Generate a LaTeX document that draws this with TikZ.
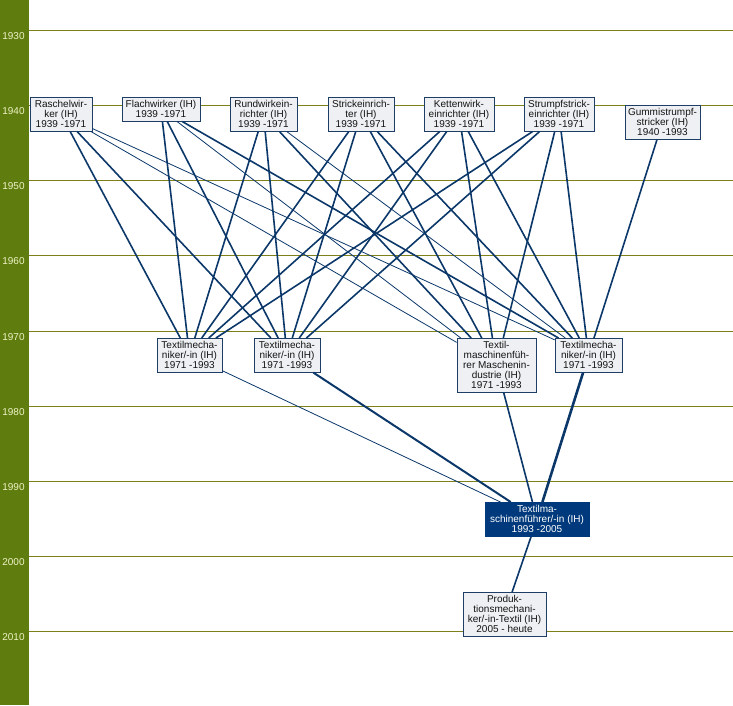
\documentclass[tikz,border=0pt]{standalone}
\usepackage{fontspec}
\setmainfont{Liberation Sans}
\definecolor{band}{HTML}{5E7D0E}
\definecolor{yeartext}{HTML}{F0F2C6}
\definecolor{gridolive}{HTML}{7F801A}
\definecolor{edgeblue}{HTML}{0B3769}
\definecolor{boxline}{HTML}{1E3E66}
\definecolor{boxfill}{HTML}{EEF0F3}
\definecolor{darkbox}{HTML}{013A7C}
\begin{document}
\begin{tikzpicture}[x=1pt,y=-1pt,
    box/.style={draw=boxline,fill=boxfill,text=black!92,align=center,anchor=north,
        inner xsep=3pt,inner ysep=3.2pt,line width=0.8pt,font=\fontsize{10}{10}\selectfont},
    darkbox/.style={box,fill=darkbox,draw=darkbox,text=white},
    link/.style={edgeblue,line width=1.6pt},
    thinlink/.style={edgeblue,line width=0.8pt},
    yearlabel/.style={text=yeartext,font=\fontsize{10}{10}\selectfont,inner sep=0pt}]
    \useasboundingbox (0,0) rectangle (733,705);
    \fill[band] (0,0) rectangle (29,705);
    \foreach \yr/\y in {1930/30,1940/105,1950/180,1960/255.5,1970/331,1980/406,1990/481,2000/556,2010/631} {
        \draw[gridolive,line width=0.8pt] (29,\y) -- (733,\y);
        \node[yearlabel] (y\yr) at (13.5,\y+6) {\yr};
    }
    % top row
    \node[box,minimum width=62pt] (rasch) at (61,97) {Raschelwir-\\ker (IH)\\1939 -1971};
    \node[box,minimum width=78pt] (flach) at (161,97) {Flachwirker (IH)\\1939 -1971};
    \node[box,minimum width=67pt] (rund) at (263.5,97) {Rundwirkein-\\richter (IH)\\1939 -1971};
    \node[box,minimum width=66pt] (strick) at (361,97) {Strickeinrich-\\ter (IH)\\1939 -1971};
    \node[box,minimum width=70pt] (ketten) at (459,97) {Kettenwirk-\\einrichter (IH)\\1939 -1971};
    \node[box,minimum width=70pt] (strumpf) at (559,97) {Strumpfstrick-\\einrichter (IH)\\1939 -1971};
    \node[box,minimum width=75pt] (gummi) at (662.5,105) {Gummistrumpf-\\stricker (IH)\\1940 -1993};
    % middle row
    \node[box,minimum width=65pt] (tma) at (189.5,338) {Textilmecha-\\niker/-in (IH)\\1971 -1993};
    \node[box,minimum width=66pt] (tmb) at (287,338) {Textilmecha-\\niker/-in (IH)\\1971 -1993};
    \node[box,minimum width=79pt] (tmm) at (496.5,338) {Textil-\\maschinenfüh-\\rer Maschenin-\\dustrie (IH)\\1971 -1993};
    \node[box,minimum width=67pt] (tmc) at (588.5,338) {Textilmecha-\\niker/-in (IH)\\1971 -1993};
    % bottom
    \node[darkbox,minimum width=104pt] (tmf) at (537,502) {Textilma-\\schinenführer/-in (IH)\\1993 -2005};
    \node[box,minimum width=83pt] (prod) at (504.5,592) {Produk-\\tionsmechani-\\ker/-in-Textil (IH)\\2005 - heute};

    \draw[link] (rasch) -- (tma);
    \draw[link] (rasch) -- (tmb);
    \draw[thinlink] (rasch) -- (tmm);
    \draw[thinlink] (rasch) -- (tmc);
    \draw[link] (flach) -- (tma);
    \draw[link] (flach) -- (tmb);
    \draw[thinlink] (flach) -- (tmm);
    \draw[link] (flach) -- (tmc);
    \foreach \src in {rund,strick,ketten,strumpf} {
        \draw[link] (\src) -- (tma);
        \draw[link] (\src) -- (tmb);
        \draw[link] (\src) -- (tmm);
    }
    \draw[thinlink] (rund) -- (tmc);
    \draw[link] (strick) -- (tmc);
    \draw[link] (ketten) -- (tmc);
    \draw[link] (strumpf) -- (tmc);
    \draw[link] (gummi) -- (tmc);
    \draw[thinlink] (tma) -- (tmf);
    \draw[link,line width=2pt] (tmb) -- (tmf);
    \draw[link] (tmm) -- (tmf);
    \draw[link,line width=2.6pt] (tmc) -- (tmf);
    \draw[link] (tmf) -- (prod);
\end{tikzpicture}
\end{document}
